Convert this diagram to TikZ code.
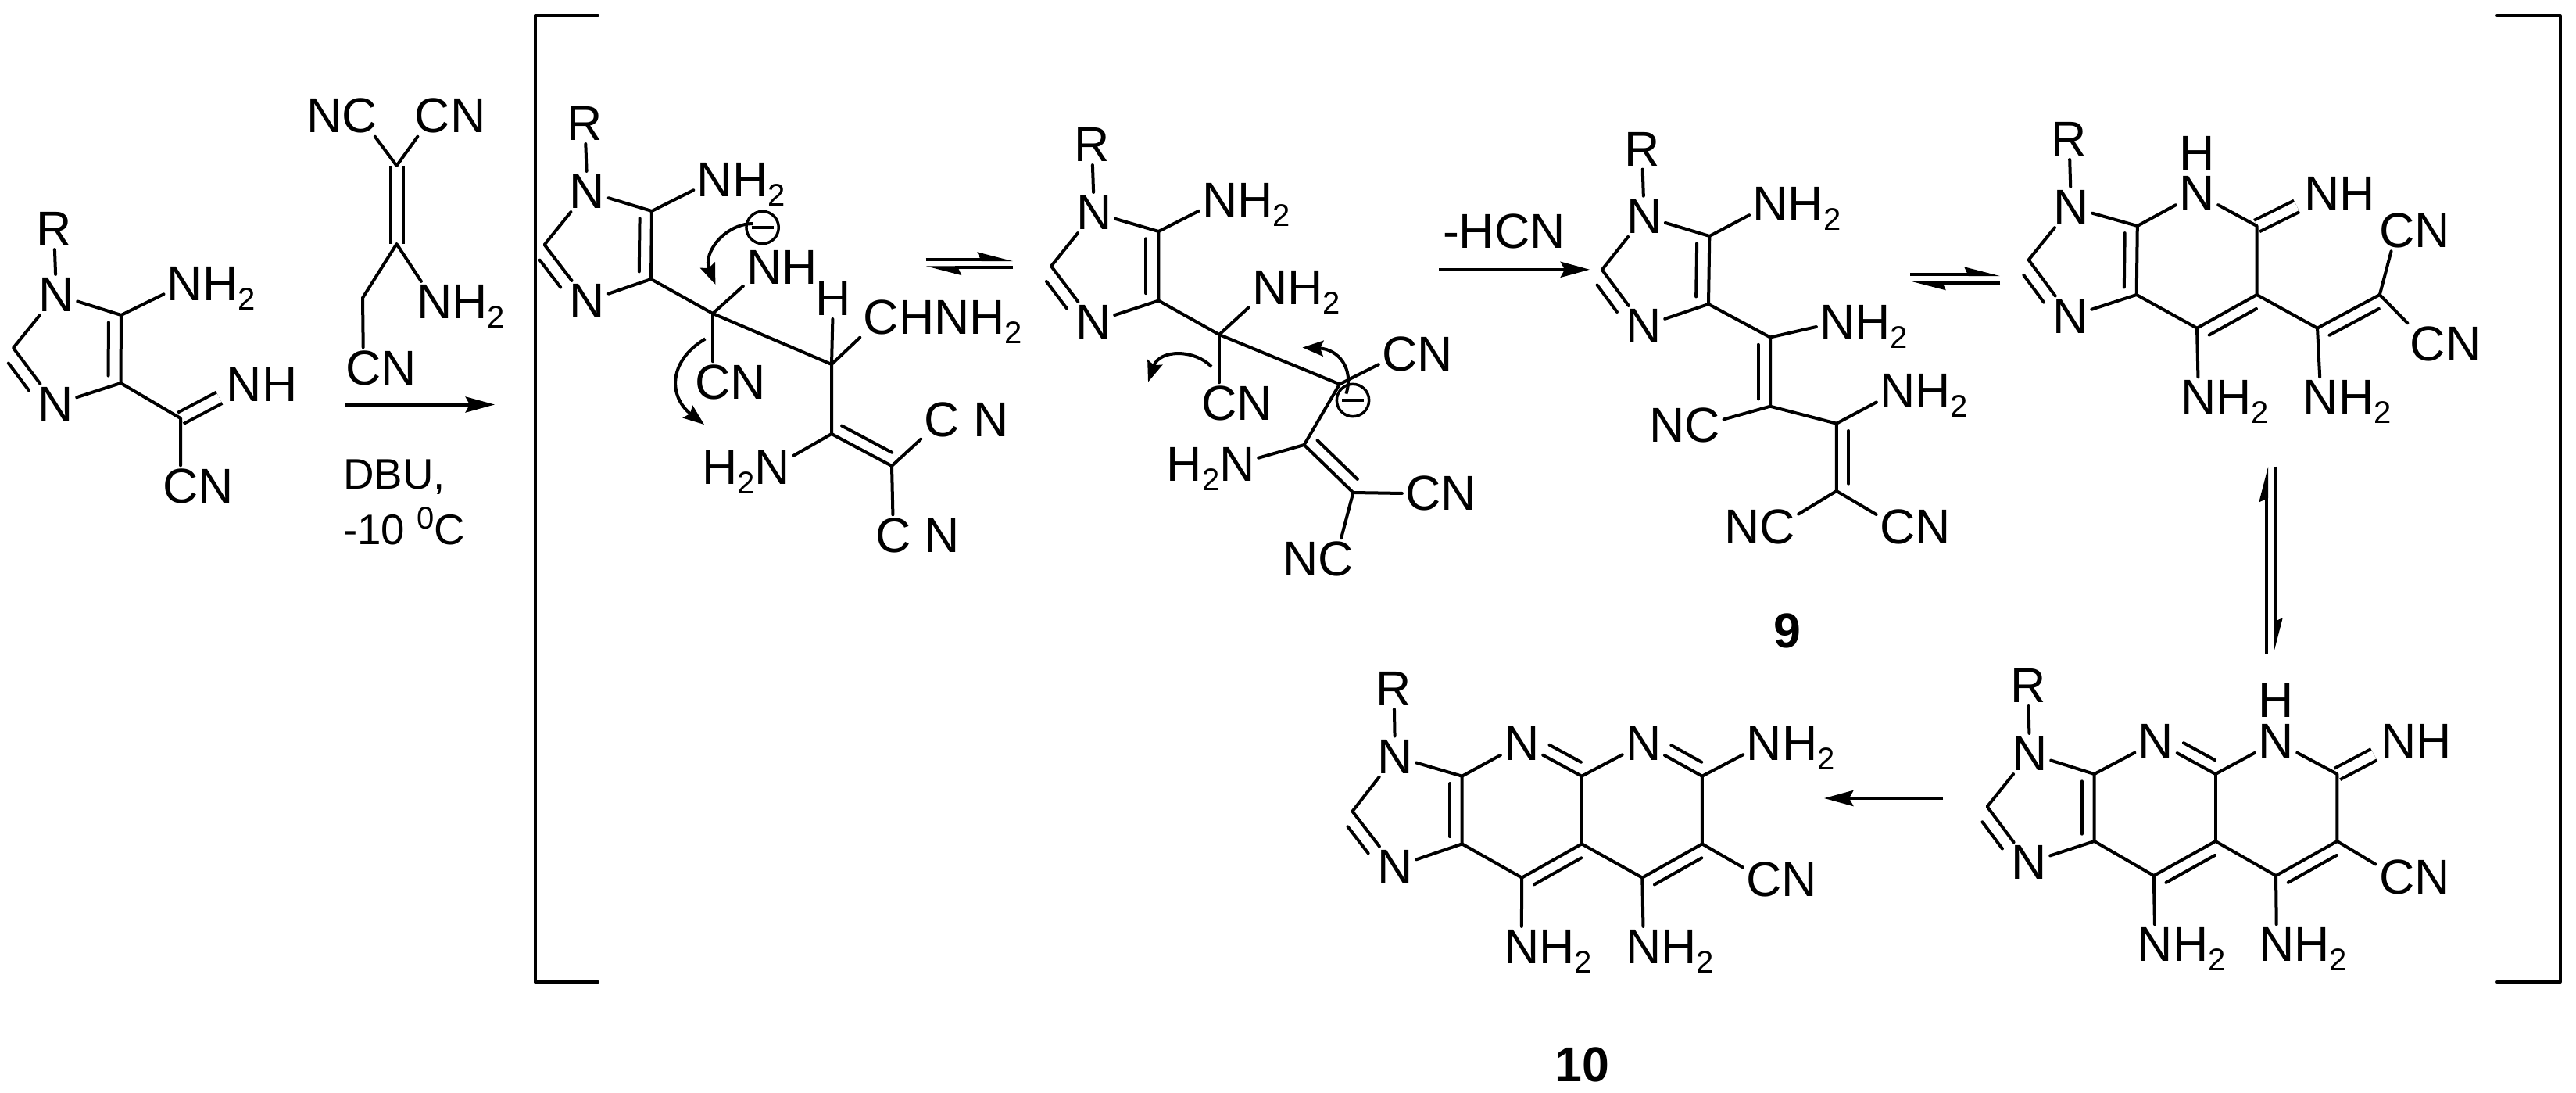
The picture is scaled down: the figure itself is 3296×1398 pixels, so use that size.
\documentclass[tikz,border=0pt]{standalone}
\usepackage{fontspec}
\setmainfont{Liberation Sans}
\usetikzlibrary{arrows.meta}
\usetikzlibrary{calc}

\newcommand{\aft}[1]{\rlap{\smash{#1}}}
\newcommand{\bef}[1]{\llap{\smash{#1}}}
\newcommand{\subtwo}{\raisebox{-9pt}{\fontsize{30}{30}\selectfont 2}}
\newcommand{\labNHtwo}{N\aft{H\subtwo}}
\newcommand{\labHtwoN}{\bef{H\subtwo}N}
\newcommand{\labNH}{N\aft{H}}
\newcommand{\labCN}{C\aft{N}}
\newcommand{\labNC}{\bef{N}C}
\newcommand{\inbond}[4][]{\draw[bond,shorten <=7pt,shorten >=7pt,#1] ($(#2)!#4!90:(#3)$) -- ($(#3)!#4!-90:(#2)$);}

\tikzset{
  atom/.style={font=\fontsize{47}{50}\selectfont,inner sep=3.4pt,outer sep=0pt},
  bond/.style={line width=3pt,line cap=round,line join=round},
  dbl/.style={line width=3pt,line cap=butt,double,double distance=9pt,shorten >=4pt},
  inN/.style={shorten <=9pt,shorten >=26pt},
  rarrow/.style={line width=3pt,-{Stealth[length=28pt,width=15pt,inset=4pt]}},
  eqarrow/.style={line width=3pt,-{Stealth[harpoon,length=28pt,width=14pt,inset=3pt]}},
  curly/.style={line width=3pt,-{Stealth[length=20pt,width=15pt,inset=3pt]}},
  chg/.style={circle,draw,line width=2.6pt,minimum size=31pt,inner sep=0pt,
    path picture={\draw[line width=2.6pt] ([xshift=5pt]path picture bounding box.west) -- ([xshift=-5pt]path picture bounding box.east);}},
  cond/.style={font=\fontsize{41}{46}\selectfont,inner sep=0pt,anchor=base west},
  cpd/.style={font=\fontsize{47}{50}\selectfont\bfseries,inner sep=0pt}
}

\begin{document}
\begin{tikzpicture}[x=0.75pt,y=0.75pt,yscale=-1,xscale=1]
\useasboundingbox (0,0) rectangle (3296,1398);

%Brackets
\coordinate (lbA) at (765,20); \coordinate (lbB) at (684.5,20); \coordinate (lbC) at (684.5,1256); \coordinate (lbD) at (765,1256);
\coordinate (rbA) at (3195,20); \coordinate (rbB) at (3275.5,20); \coordinate (rbC) at (3275.5,1256); \coordinate (rbD) at (3195,1256);
\draw[bond] (lbA) -- (lbB) -- (lbC) -- (lbD);
\draw[bond] (rbA) -- (rbB) -- (rbC) -- (rbD);

%Starting imidazole
\node[atom] (aR) at (69,293) {R};
\node[atom] (aN1) at (72,377) {N};
\node[atom] (aN3) at (71,517) {N};
\node[atom] (aNH2) at (236.6,363) {\labNHtwo};
\node[atom] (aNH) at (312.5,492) {\labNH};
\node[atom] (aCN) at (231,622) {\labCN};
\coordinate (aC5) at (155,403);
\coordinate (aC4) at (154.5,490);
\coordinate (aC2) at (17,445);
\coordinate (aC6) at (231,535);
\draw[dbl] (aC6) -- (aNH);
\draw[bond] (aR) -- (aN1);
\draw[bond] (aN1) -- (aC5) -- (aC4) -- (aN3) -- (aC2) -- (aN1);
\draw[bond] (aC5) -- (aNH2);
\draw[bond] (aC4) -- (aC6) -- (aCN);
\inbond{aC5}{aC4}{12pt}
\inbond[inN]{aC2}{aN3}{12.5pt}

%Reagent
\node[atom] (bNC) at (460,148) {\labNC};
\node[atom] (bCNa) at (553.6,148) {\labCN};
\node[atom] (bNH2) at (556,386) {\labNHtwo};
\node[atom] (bCNb) at (465,471) {\labCN};
\coordinate (bC1) at (507.5,212);
\coordinate (bC2) at (507.5,312);
\coordinate (bC3) at (464,381);
\draw[dbl,shorten >=0pt] (bC1) -- (bC2);
\draw[bond] (bNC) -- (bC1) -- (bCNa);
\draw[bond] (bNH2) -- (bC2) -- (bC3) -- (bCNb);

%Arrow and conditions
\coordinate (arA) at (442,517.5);
\coordinate (arB) at (633,517.5);
\draw[rarrow] (arA) -- (arB);
\node[cond] (dbu) at (439,625) {DBU,};
\node[cond] (temp) at (439,696) {-10 \raisebox{15pt}{\fontsize{30}{30}\selectfont 0}C};

%First intermediate
\node[atom] (cR) at (748.4,158) {R};
\node[atom] (cN1) at (751.5,245) {N};
\node[atom] (cN3) at (751.5,385) {N};
\node[atom] (cNH2) at (914.5,229.6) {\labNHtwo};
\node[atom] (cNH) at (978,341.5) {\labNH};
\node[atom] (cCNa) at (912,489) {\labCN};
\node[atom] (cH) at (1066,382) {H};
\node[atom] (cCH) at (1127.4,406) {C\aft{HNH\subtwo}};
\node[atom] (cH2N) at (988.6,598) {\labHtwoN};
\node[atom] (cCNb) at (1205.5,536.6) {C\aft{\ N}};
\node[atom] (cCNc) at (1143,685) {C\aft{\ N}};
\node[chg] (cMin) at (975.6,291) {};
\coordinate (cC5) at (834,270);
\coordinate (cC4) at (833,357);
\coordinate (cC2) at (696.6,313);
\coordinate (cC6) at (912,401);
\coordinate (cC7) at (1064,466);
\coordinate (cC8) at (1064,555);
\coordinate (cC9) at (1141,596);
\draw[bond] (cR) -- (cN1);
\draw[bond] (cN1) -- (cC5) -- (cC4) -- (cN3) -- (cC2) -- (cN1);
\draw[bond] (cC5) -- (cNH2);
\draw[bond] (cC4) -- (cC6) -- (cC7) -- (cC8) -- (cC9) -- (cCNb);
\draw[bond] (cC6) -- (cNH);
\draw[bond] (cC6) -- (cCNa);
\draw[bond] (cC7) -- (cH);
\draw[bond] (cC7) -- (cCH);
\draw[bond] (cC8) -- (cH2N);
\draw[bond] (cC9) -- (cCNc);
\inbond{cC5}{cC4}{11.5pt}
\inbond[inN]{cC2}{cN3}{12.5pt}
\inbond[shorten <=5pt,shorten >=6pt]{cC8}{cC9}{-11.5pt}
\coordinate (cuA) at (963.6,286);
\coordinate (cuB) at (915.4,364);
\coordinate (cuC) at (902.4,433.4);
\coordinate (cuD) at (901,543);
\draw[curly] (cuA) .. controls (928,286) and (899,323) .. (cuB);
\draw[curly] (cuC) .. controls (855,461.6) and (855,507) .. (cuD);

%Equilibrium
\coordinate (eqA) at (1184.5,332);
\coordinate (eqB) at (1296,332);
\coordinate (eqC) at (1296,342.4);
\coordinate (eqD) at (1184.5,342.4);
\draw[eqarrow] (eqA) -- (eqB);
\draw[eqarrow] (eqC) -- (eqD);

%Second intermediate
\node[atom] (dR) at (1397,185) {R};
\node[atom] (dN1) at (1400,272) {N};
\node[atom] (dN3) at (1399,412) {N};
\node[atom] (dNH2) at (1561,256) {\labNHtwo};
\node[atom] (dNHb) at (1625,368) {\labNHtwo};
\node[atom] (dCNa) at (1560,516) {\labCN};
\node[atom] (dCNb) at (1791,452.6) {\labCN};
\node[atom] (dH2N) at (1583,593.5) {\labHtwoN};
\node[atom] (dCNc) at (1821,631.4) {\labCN};
\node[atom] (dNC) at (1709,715) {\labNC};
\node[chg] (dMin) at (1731,512) {};
\coordinate (dC5) at (1482.4,296);
\coordinate (dC4) at (1482.4,384.5);
\coordinate (dC2) at (1345,340.4);
\coordinate (dC6) at (1560,428);
\coordinate (dC7) at (1714,491.4);
\coordinate (dC8) at (1668.6,569);
\coordinate (dC9) at (1731.4,630);
\draw[bond] (dR) -- (dN1);
\draw[bond] (dN1) -- (dC5) -- (dC4) -- (dN3) -- (dC2) -- (dN1);
\draw[bond] (dC5) -- (dNH2);
\draw[bond] (dC4) -- (dC6) -- (dC7) -- (dC8) -- (dC9) -- (dCNc);
\draw[bond] (dC6) -- (dNHb);
\draw[bond] (dC6) -- (dCNa);
\draw[bond] (dC7) -- (dCNb);
\draw[bond] (dC8) -- (dH2N);
\draw[bond] (dC9) -- (dNC);
\inbond{dC5}{dC4}{12pt}
\inbond[inN]{dC2}{dN3}{12.5pt}
\inbond[shorten <=6pt,shorten >=6pt]{dC8}{dC9}{-12pt}
\coordinate (duA) at (1550,469);
\coordinate (duB) at (1469,488.6);
\coordinate (duC) at (1722.4,503.7);
\coordinate (duD) at (1666.5,444.5);
\draw[curly] (duA) .. controls (1528.6,446.5) and (1483.7,446.5) .. (duB);
\draw[curly] (duC) .. controls (1732.7,471) and (1712,446.5) .. (duD);

%Loss of HCN
\coordinate (hcA) at (1841,344.8);
\coordinate (hcB) at (2034,344.8);
\draw[rarrow] (hcA) -- (hcB);
\node[atom,inner sep=0pt,anchor=base west] (hcn) at (1846,317.7) {-HCN};

%Compound 9
\node[atom] (eR) at (2100.8,190.5) {R};
\node[atom] (eN1) at (2103.7,276.8) {N};
\node[atom] (eN3) at (2103,417) {N};
\node[atom] (eNH2) at (2265.3,260.8) {\labNHtwo};
\node[atom] (eNHb) at (2351,411.8) {\labNHtwo};
\node[atom] (eNCa) at (2178.4,544) {\labNC};
\node[atom] (eNHc) at (2428,500) {\labNHtwo};
\node[atom] (eNCb) at (2274,674) {\labNC};
\node[atom] (eCN) at (2427.8,674) {\labCN};
\node[cpd] (ecpd) at (2287,807) {9};
\coordinate (eC5) at (2187.3,302);
\coordinate (eC4) at (2186,389);
\coordinate (eC2) at (2049.8,345);
\coordinate (eC6) at (2265,431.5);
\coordinate (eC7) at (2265,519.7);
\coordinate (eC8) at (2349.8,541.7);
\coordinate (eC9) at (2349.8,628);
\draw[bond] (eR) -- (eN1);
\draw[bond] (eN1) -- (eC5) -- (eC4) -- (eN3) -- (eC2) -- (eN1);
\draw[bond] (eC5) -- (eNH2);
\draw[bond] (eC4) -- (eC6) -- (eC7) -- (eC8) -- (eC9) -- (eCN);
\draw[bond] (eC6) -- (eNHb);
\draw[bond] (eC7) -- (eNCa);
\draw[bond] (eC8) -- (eNHc);
\draw[bond] (eC9) -- (eNCb);
\inbond{eC5}{eC4}{12pt}
\inbond[inN]{eC2}{eN3}{12.5pt}
\inbond{eC6}{eC7}{11.5pt}
\inbond{eC8}{eC9}{-11.5pt}

%Equilibrium
\coordinate (eqE) at (2444,351);
\coordinate (eqF) at (2559,351);
\coordinate (eqG) at (2559,361.6);
\coordinate (eqH) at (2444,361.6);
\draw[eqarrow] (eqE) -- (eqF);
\draw[eqarrow] (eqG) -- (eqH);

%Tricycle with side chain
\node[atom] (fR) at (2647.4,178) {R};
\node[atom] (fN1) at (2650,265) {N};
\node[atom] (fN3) at (2649,404.6) {N};
\node[atom,inner sep=0pt] (fH) at (2811,196) {H};
\node[atom] (fN) at (2811,247.4) {N};
\node[atom] (fNH) at (2970.6,248) {\labNH};
\node[atom] (fNH2a) at (2813,508.4) {\labNHtwo};
\node[atom] (fNH2b) at (2969.5,508.4) {\labNHtwo};
\node[atom] (fCNa) at (3066.6,294.6) {\labCN};
\node[atom] (fCNb) at (3106.5,440) {\labCN};
\coordinate (fC5) at (2734.8,289);
\coordinate (fC4) at (2733.7,377);
\coordinate (fC2) at (2595.6,332.4);
\coordinate (fC6) at (2887.6,289);
\coordinate (fC7) at (2887.6,377);
\coordinate (fC8) at (2811,419.7);
\coordinate (fC9) at (2965,419.7);
\coordinate (fC10) at (3044.8,377);
\draw[dbl] (fC6) -- (fNH);
\draw[bond] (fR) -- (fN1);
\draw[bond] (fN1) -- (fC5) -- (fC4) -- (fN3) -- (fC2) -- (fN1);
\draw[bond] (fC5) -- (fN) -- (fC6) -- (fC7) -- (fC8) -- (fC4);
\draw[bond] (fC8) -- (fNH2a);
\draw[bond] (fC7) -- (fC9) -- (fC10) -- (fCNa);
\draw[bond] (fC10) -- (fCNb);
\draw[bond] (fC9) -- (fNH2b);
\inbond{fC5}{fC4}{12pt}
\inbond[inN]{fC2}{fN3}{12.5pt}
\inbond{fC8}{fC7}{11.5pt}
\inbond{fC9}{fC10}{11.5pt}

%Vertical equilibrium
\coordinate (eqI) at (2900,836);
\coordinate (eqJ) at (2900,596.6);
\coordinate (eqK) at (2911,596.6);
\coordinate (eqL) at (2911,836);
\draw[eqarrow] (eqI) -- (eqJ);
\draw[eqarrow] (eqK) -- (eqL);

%Tetracycle imine
\node[atom] (gR) at (2594.9,877) {R};
\node[atom] (gN1) at (2597,964) {N};
\node[atom] (gN3) at (2596,1103.3) {N};
\node[atom] (gN4) at (2758.5,948.3) {N};
\node[atom,inner sep=0pt] (gH) at (2912,895.7) {H};
\node[atom] (gN5) at (2912,948.3) {N};
\node[atom] (gNH) at (3069.3,948.3) {\labNH};
\node[atom] (gCN) at (3066.6,1121.7) {\labCN};
\node[atom] (gNH2a) at (2757.4,1208.3) {\labNHtwo};
\node[atom] (gNH2b) at (2913,1208.3) {\labNHtwo};
\coordinate (gC5) at (2679.6,990);
\coordinate (gC4) at (2679.6,1076);
\coordinate (gC2) at (2542.6,1031.7);
\coordinate (gC6) at (2834.7,990);
\coordinate (gC7) at (2990.4,990);
\coordinate (gC8) at (2990.4,1076);
\coordinate (gC9) at (2834.7,1076);
\coordinate (gC10) at (2755.8,1120);
\coordinate (gC11) at (2912,1120);
\draw[dbl] (gC7) -- (gNH);
\draw[bond] (gR) -- (gN1);
\draw[bond] (gN1) -- (gC5) -- (gC4) -- (gN3) -- (gC2) -- (gN1);
\draw[bond] (gC5) -- (gN4) -- (gC6) -- (gN5) -- (gC7) -- (gC8) -- (gC11) -- (gC9) -- (gC10) -- (gC4);
\draw[bond] (gC6) -- (gC9);
\draw[bond] (gC8) -- (gCN);
\draw[bond] (gC10) -- (gNH2a);
\draw[bond] (gC11) -- (gNH2b);
\inbond{gC5}{gC4}{12pt}
\inbond[inN]{gC2}{gN3}{12.5pt}
\inbond[shorten <=24pt]{gN4}{gC6}{-11.5pt}
\inbond{gC10}{gC9}{11.5pt}
\inbond{gC11}{gC8}{11.5pt}

%Last arrow
\coordinate (laA) at (2486,1021);
\coordinate (laB) at (2334,1021);
\draw[rarrow] (laA) -- (laB);

%Compound 10
\node[atom] (hR) at (1783.5,881) {R};
\node[atom] (hN1) at (1785,967.6) {N};
\node[atom] (hN3) at (1785,1108.6) {N};
\node[atom] (hN4) at (1947,951) {N};
\node[atom] (hN5) at (2102.9,951) {N};
\node[atom] (hNH2) at (2257.4,951) {\labNHtwo};
\node[atom] (hCN) at (2257,1125) {\labCN};
\node[atom] (hNH2a) at (1946.7,1211) {\labNHtwo};
\node[atom] (hNH2b) at (2102.9,1211) {\labNHtwo};
\node[cpd] (hcpd) at (2024.8,1362.4) {10};
\coordinate (hC5) at (1870.7,992.7);
\coordinate (hC4) at (1870.7,1079.4);
\coordinate (hC2) at (1730.4,1037.7);
\coordinate (hC6) at (2023.8,992.7);
\coordinate (hC7) at (2177.9,992.7);
\coordinate (hC8) at (2177.9,1079.4);
\coordinate (hC9) at (2023.8,1079.4);
\coordinate (hC10) at (1947.2,1122.6);
\coordinate (hC11) at (2101.3,1122.6);
\draw[bond] (hR) -- (hN1);
\draw[bond] (hN1) -- (hC5) -- (hC4) -- (hN3) -- (hC2) -- (hN1);
\draw[bond] (hC5) -- (hN4) -- (hC6) -- (hN5) -- (hC7) -- (hC8) -- (hC11) -- (hC9) -- (hC10) -- (hC4);
\draw[bond] (hC6) -- (hC9);
\draw[bond] (hC7) -- (hNH2);
\draw[bond] (hC8) -- (hCN);
\draw[bond] (hC10) -- (hNH2a);
\draw[bond] (hC11) -- (hNH2b);
\inbond{hC5}{hC4}{11.5pt}
\inbond[inN]{hC2}{hN3}{12.5pt}
\inbond[shorten <=24pt]{hN4}{hC6}{-11.5pt}
\inbond[shorten <=24pt]{hN5}{hC7}{-11.5pt}
\inbond{hC10}{hC9}{11.5pt}
\inbond{hC11}{hC8}{11.5pt}

\end{tikzpicture}
\end{document}
